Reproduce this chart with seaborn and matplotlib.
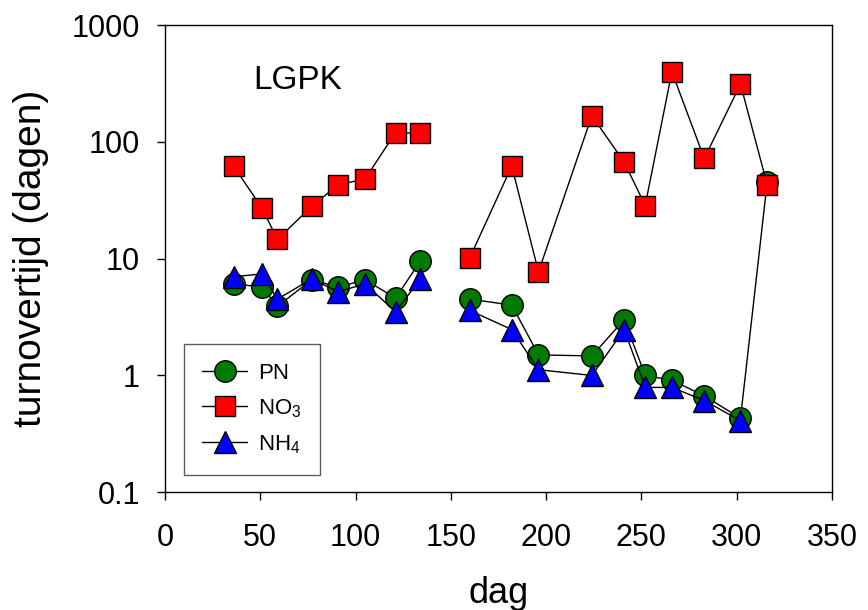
import matplotlib
matplotlib.use("Agg")
import matplotlib.pyplot as plt
import seaborn as sns
import pandas as pd
import numpy as np

# ---- data ----
pn_day_1 = [36, 51, 59, 77, 91, 105, 121, 134]
pn_val_1 = [6.1, 5.7, 3.9, 6.6, 5.7, 6.6, 4.6, 9.5]
pn_day_2 = [160, 182, 196, 224, 241, 252, 266, 283, 302, 316]
pn_val_2 = [4.5, 4.0, 1.5, 1.47, 3.0, 1.0, 0.91, 0.67, 0.43, 45]

no3_day_1 = [36, 51, 59, 77, 91, 105, 121, 134]
no3_val_1 = [62, 27, 14.6, 28, 43, 48, 120, 118]
no3_day_2 = [160, 182, 196, 224, 241, 252, 266, 283, 302, 316]
no3_val_2 = [10.2, 62, 7.7, 167, 67, 28.5, 398, 72, 312, 43]

nh4_day_1 = [36, 51, 59, 77, 91, 105, 121, 134]
nh4_val_1 = [7.0, 7.4, 4.5, 6.7, 5.2, 6.1, 3.5, 6.7]
nh4_day_2 = [160, 182, 196, 224, 241, 252, 266, 283, 302]
nh4_val_2 = [3.6, 2.47, 1.12, 1.0, 2.47, 0.79, 0.79, 0.61, 0.41]

x_ticks = [0, 50, 100, 150, 200, 250, 300, 350]
y_ticks = [0.1, 1, 10, 100, 1000]
y_ticklabels = ["0.1", "1", "10", "100", "1000"]

sns.set_style("white")
plt.rcParams["font.family"] = ["Liberation Sans", "DejaVu Sans"]
plt.rcParams["mathtext.default"] = "regular"
for k in ["text.color", "axes.labelcolor", "xtick.color", "ytick.color"]:
    plt.rcParams[k] = "black"

fig = plt.figure(figsize=(8.68, 6.10), dpi=100)
ax = fig.add_axes([0.190, 0.193, 0.7685, 0.766])

series = [
    ("PN", pn_day_1, pn_val_1, pn_day_2, pn_val_2, "o", "#007a00", 15.5, 3),
    ("NO$_3$", no3_day_1, no3_val_1, no3_day_2, no3_val_2, "s", "#ff0000", 14, 4),
    ("NH$_4$", nh4_day_1, nh4_val_1, nh4_day_2, nh4_val_2, "^", "#0000ff", 16, 5),
]

for name, d1, v1, d2, v2, mk, col, ms, z in series:
    for i, (d, v) in enumerate([(d1, v1), (d2, v2)]):
        df = pd.DataFrame({"dag": d, "val": v})
        sns.lineplot(data=df, x="dag", y="val", ax=ax, sort=False,
                     color="black", linewidth=1.0, marker=mk,
                     markersize=ms, markerfacecolor=col,
                     markeredgecolor="black", markeredgewidth=1.0,
                     label=name if i == 0 else None, zorder=z)

ax.set_yscale("log")
ax.set_xlim(0, 350)
ax.set_ylim(0.1, 1000)
ax.set_xticks(x_ticks)
ax.set_xticklabels([str(t) for t in x_ticks])
ax.set_yticks(y_ticks)
ax.set_yticklabels(y_ticklabels)
ax.yaxis.set_minor_locator(matplotlib.ticker.NullLocator())
ax.tick_params(axis="both", which="major", direction="out", length=6,
               width=1.0, labelsize=22, color="black",
               bottom=True, left=True, top=False, right=False)
ax.tick_params(axis="x", pad=16)
ax.tick_params(axis="y", pad=12)
for sp in ax.spines.values():
    sp.set_color("black")
    sp.set_linewidth(1.0)

ax.set_xlabel("dag", fontsize=26, labelpad=17)
ax.set_ylabel("turnovertijd (dagen)", fontsize=28, labelpad=16)

ax.text(0.132, 0.882, "LGPK", transform=ax.transAxes, fontsize=24,
        ha="left", va="center")

leg = ax.legend(loc="lower left", bbox_to_anchor=(0.028, 0.038),
                fontsize=16, frameon=True, fancybox=False, borderpad=0.85,
                handlelength=2.0, labelspacing=0.6, borderaxespad=0.0,
                handletextpad=0.5)
leg.get_frame().set_edgecolor("#333333")
leg.get_frame().set_linewidth(1.0)

fig.savefig("out.png", dpi=100)
